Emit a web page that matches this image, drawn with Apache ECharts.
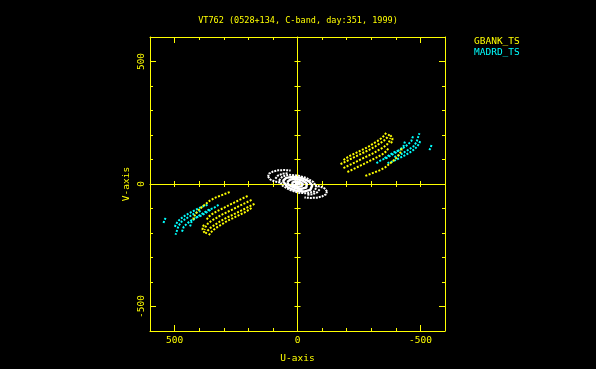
<!DOCTYPE html>
<html><head><meta charset="utf-8">
<script src="https://cdn.jsdelivr.net/npm/echarts@6/dist/echarts.min.js"></script>
<style>html,body{margin:0;padding:0;background:#000;}#c{width:596px;height:369px;}</style>
</head><body><div id="c"></div>
<script>
// ---------- data ----------
const titleText = 'VT762 (0528+134, C-band, day:351, 1999)';
const uAxisName = 'U-axis';
const vAxisName = 'V-axis';
const axisMin = -600, axisMax = 600;
const minorTickValues = [-500, -400, -300, -200, -100, 0, 100, 200, 300, 400, 500];
const majorTickValues = [-500, 0, 500];
const seriesNames = ['GBANK_TS', 'MADRD_TS'];

// GBANK_TS tracks, [u, v]
const gbankTracks = [
  [[-187,98],[-211,114],[-236,126],[-260,138],[-285,150],[-305,163],[-325,175],[-341,187],[-354,199],[-362,211]],
  [[-175,81],[-199,93],[-224,106],[-248,118],[-272,130],[-297,142],[-317,154],[-337,167],[-354,179],[-366,191],[-374,203]],
  [[-187,65],[-211,77],[-236,89],[-260,102],[-285,114],[-309,126],[-329,138],[-350,150],[-366,163],[-374,175],[-378,187]],
  [[-203,49],[-228,61],[-252,73],[-276,85],[-301,98],[-325,110],[-346,122],[-362,134],[-370,146]],
  [[-378,199],[-386,187],[-386,175],[-378,163]],
  [[-276,33],[-297,41],[-317,49],[-337,57],[-358,69],[-378,85],[-398,102],[-415,122],[-423,138],[-423,150]],
  [[187,-98],[211,-114],[236,-126],[260,-138],[285,-150],[305,-163],[325,-175],[341,-187],[354,-199],[362,-211]],
  [[175,-81],[199,-93],[224,-106],[248,-118],[272,-130],[297,-142],[317,-154],[337,-167],[354,-179],[366,-191],[374,-203]],
  [[187,-65],[211,-77],[236,-89],[260,-102],[285,-114],[309,-126],[329,-138],[350,-150],[366,-163],[374,-175],[378,-187]],
  [[203,-49],[228,-61],[252,-73],[276,-85],[301,-98],[325,-110],[346,-122],[362,-134],[370,-146]],
  [[378,-199],[386,-187],[386,-175],[378,-163]],
  [[276,-33],[297,-41],[317,-49],[337,-57],[358,-69],[378,-85],[398,-102],[415,-122],[423,-138],[423,-150]]
];

// MADRD_TS tracks, [u, v]
const madrdTracks = [
  [[-321,85],[-341,98],[-362,106],[-382,118],[-402,130],[-419,142],[-431,154],[-435,167],[-439,179]],
  [[-354,106],[-374,118],[-394,130],[-415,138],[-435,150],[-451,163],[-463,175],[-467,187],[-472,199]],
  [[-394,110],[-415,118],[-435,130],[-455,142],[-472,154],[-484,171],[-488,183],[-492,195],[-496,207]],
  [[-366,85],[-390,93],[-415,106],[-439,118],[-459,130],[-476,142],[-488,154],[-496,167],[-500,179]],
  [[-545,159],[-541,146],[-533,134]],
  [[321,-85],[341,-98],[362,-106],[382,-118],[402,-130],[419,-142],[431,-154],[435,-167],[439,-179]],
  [[354,-106],[374,-118],[394,-130],[415,-138],[435,-150],[451,-163],[463,-175],[467,-187],[472,-199]],
  [[394,-110],[415,-118],[435,-130],[455,-142],[472,-154],[484,-171],[488,-183],[492,-195],[496,-207]],
  [[366,-85],[390,-93],[415,-106],[439,-118],[459,-130],[476,-142],[488,-154],[496,-167],[500,-179]],
  [[545,-159],[541,-146],[533,-134]]
];

// other (short) baselines, drawn in white, [u, v]
const otherOuterTracks = [
  [[120,30],[116,42],[100,51],[78,56],[52,57],[28,55]],
  [[120,30],[110,18],[92,10],[70,6]],
  [[-120,-30],[-116,-42],[-100,-51],[-78,-56],[-52,-57],[-28,-55]],
  [[-120,-30],[-110,-18],[-92,-10],[-70,-6]],
  [[90,22],[80,34],[62,42],[40,44]],
  [[-90,-22],[-80,-34],[-62,-42],[-40,-44]],
  [[75,15],[62,30],[35,38],[0,35],[-35,25],[-65,8],[-78,-12],[-68,-30],[-40,-38],[-5,-36],[30,-25],[60,-8],[75,15]]
];
const otherInnerTracks = [
  [[60,12],[46,25],[18,30],[-15,25],[-45,12],[-60,-6],[-52,-24],[-25,-31],[8,-27],[38,-15],[60,12]],
  [[42,8],[28,18],[5,21],[-20,14],[-38,2],[-36,-14],[-12,-21],[12,-16],[35,-5],[42,8]],
  [[24,4],[10,11],[-8,9],[-22,0],[-16,-9],[2,-12],[18,-6],[24,4]],
  [[10,2],[0,5],[-10,1],[-4,-5],[8,-3],[10,2]]
];

// ---------- style ----------
const YEL = '#ffff00', CYA = '#00ffff', WHT = '#ffffff';
const FONT = 'DejaVu Sans Mono';

function baseAxis(extra) {
  return Object.assign({
    type: 'value', min: axisMin, max: axisMax,
    splitLine: { show: false },
    axisLine: { show: true, onZero: false, lineStyle: { color: YEL, width: 1 } },
    axisTick: { show: true, inside: true, length: 3, customValues: minorTickValues, lineStyle: { color: YEL, width: 1 } },
    axisLabel: { show: false },
    silent: true
  }, extra);
}
const labelFmt = v => String(v);

const xAxes = [
  baseAxis({ inverse: true, position: 'bottom',
    axisLabel: { show: true, customValues: majorTickValues, formatter: labelFmt, color: YEL, fontFamily: FONT, fontSize: 9.5, margin: 5 },
    name: uAxisName, nameLocation: 'middle', nameGap: 23,
    nameTextStyle: { color: YEL, fontFamily: FONT, fontSize: 9.5 } }),
  baseAxis({ inverse: true, position: 'top' }),
  baseAxis({ inverse: true, position: 'bottom', axisLine: { show: false, onZero: false },
    axisTick: { show: true, inside: true, length: 6, customValues: majorTickValues, lineStyle: { color: YEL } } }),
  baseAxis({ inverse: true, position: 'top', axisLine: { show: false, onZero: false },
    axisTick: { show: true, inside: true, length: 6, customValues: majorTickValues, lineStyle: { color: YEL } } }),
  baseAxis({ inverse: true, position: 'bottom',
    axisLine: { show: true, onZero: true, onZeroAxisIndex: 0, lineStyle: { color: YEL, width: 1 } } }),
  baseAxis({ inverse: true, position: 'bottom',
    axisLine: { show: false, onZero: true, onZeroAxisIndex: 0 },
    axisTick: { show: true, inside: false, length: 3, customValues: minorTickValues, lineStyle: { color: YEL } } })
];
const yAxes = [
  baseAxis({ position: 'left',
    axisLabel: { show: true, customValues: majorTickValues, formatter: labelFmt, rotate: 90, color: YEL, fontFamily: FONT, fontSize: 9.5, margin: 3 },
    name: vAxisName, nameLocation: 'middle', nameGap: 18, nameRotate: 90,
    nameTextStyle: { color: YEL, fontFamily: FONT, fontSize: 9.5 } }),
  baseAxis({ position: 'right' }),
  baseAxis({ position: 'left', axisLine: { show: false, onZero: false },
    axisTick: { show: true, inside: true, length: 6, customValues: majorTickValues, lineStyle: { color: YEL } } }),
  baseAxis({ position: 'right', axisLine: { show: false, onZero: false },
    axisTick: { show: true, inside: true, length: 6, customValues: majorTickValues, lineStyle: { color: YEL } } }),
  baseAxis({ position: 'left',
    axisLine: { show: true, onZero: true, onZeroAxisIndex: 0, lineStyle: { color: YEL, width: 1 } } }),
  baseAxis({ position: 'left',
    axisLine: { show: false, onZero: true, onZeroAxisIndex: 0 },
    axisTick: { show: true, inside: false, length: 3, customValues: minorTickValues, lineStyle: { color: YEL } } })
];

function trackSeries(tracks, name, color, width, dash, z) {
  return tracks.map(t => ({
    type: 'line', name: name, data: t, xAxisIndex: 0, yAxisIndex: 0,
    symbol: 'none', showSymbol: false, silent: true, z: z,
    itemStyle: { color: color },
    lineStyle: { color: color, width: width, type: dash }
  }));
}

const series = []
  .concat(trackSeries(madrdTracks, seriesNames[1], CYA, 2, [2, 1.5], 3))
  .concat(trackSeries(gbankTracks, seriesNames[0], YEL, 2, [2, 1.5], 4))
  .concat(trackSeries(otherOuterTracks, 'other', WHT, 2, [2, 1], 5))
  .concat(trackSeries(otherInnerTracks, 'other', WHT, 2.5, 'solid', 5));

const chart = echarts.init(document.getElementById('c'), null, { renderer: 'canvas' });
chart.setOption({
  backgroundColor: '#000000',
  animation: false,
  title: { text: titleText, left: 'center', top: 11,
    textStyle: { color: YEL, fontSize: 8.5, fontWeight: 'normal', fontFamily: FONT } },
  legend: {
    data: [ { name: seriesNames[0], textStyle: { color: YEL } }, { name: seriesNames[1], textStyle: { color: CYA } } ],
    orient: 'vertical', left: 469, top: 37, padding: 0,
    icon: 'none', itemWidth: 0, itemHeight: 10, itemGap: 1, selectedMode: false,
    textStyle: { fontFamily: FONT, fontSize: 9.5 }
  },
  grid: { left: 150, top: 37, width: 295, height: 294, containLabel: false },
  xAxis: xAxes,
  yAxis: yAxes,
  series: series
});
</script>
</body></html>
